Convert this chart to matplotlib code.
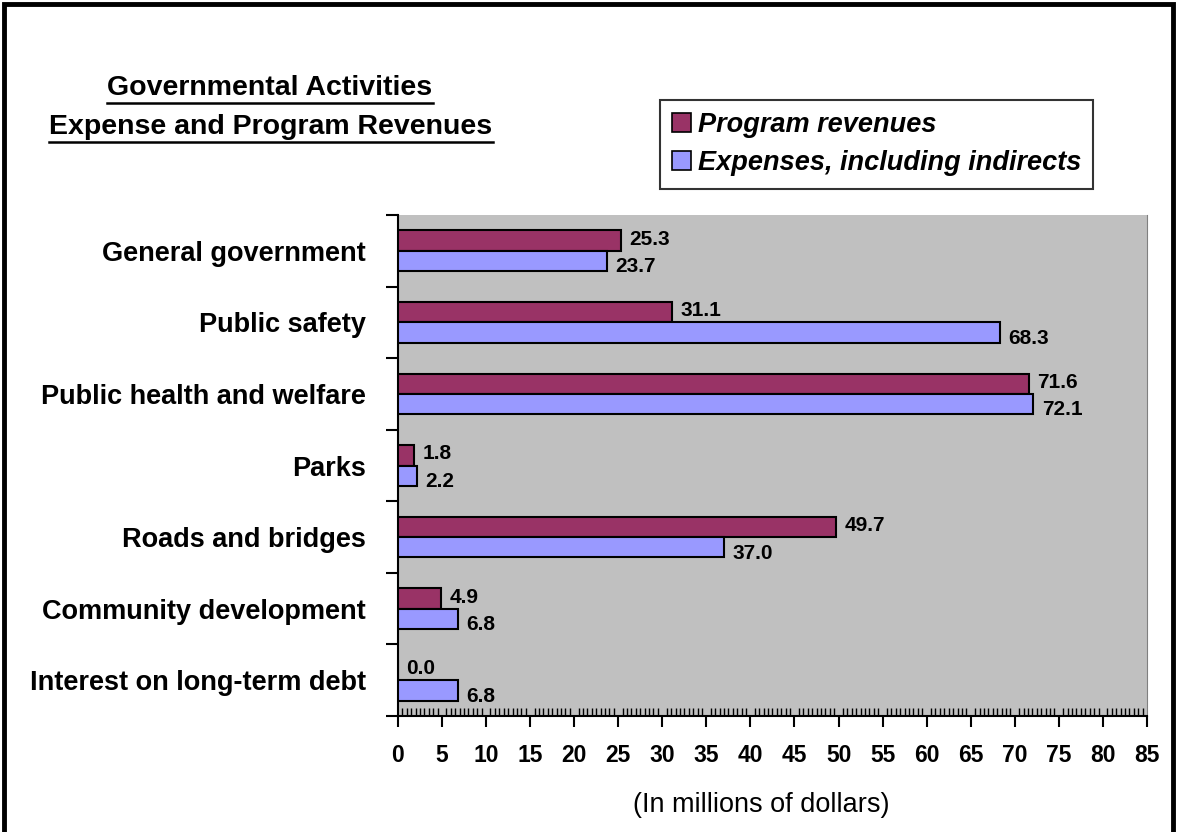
import matplotlib.pyplot as plt
import numpy as np
from matplotlib.lines import Line2D
from matplotlib.patches import Rectangle, Patch
from matplotlib.ticker import MultipleLocator

plt.rcParams["font.family"] = ["Liberation Sans", "DejaVu Sans"]

categories = [
    "General government",
    "Public safety",
    "Public health and welfare",
    "Parks",
    "Roads and bridges",
    "Community development",
    "Interest on long-term debt",
]
program_revenues = [25.3, 31.1, 71.6, 1.8, 49.7, 4.9, 0.0]
expenses = [23.7, 68.3, 72.1, 2.2, 37.0, 6.8, 6.8]

PROG_COLOR = "#993366"
EXP_COLOR = "#9999FF"

fig = plt.figure(figsize=(11.77, 8.32), dpi=100)
ax = fig.add_axes([0.3381, 0.1394, 0.6364, 0.6022])
ax.set_facecolor("#C0C0C0")

n = len(categories)
y = np.arange(n)
h = 0.285

ax.barh(y - h / 2, program_revenues, height=h, color=PROG_COLOR,
        edgecolor="black", linewidth=1.5, zorder=3)
ax.barh(y + h / 2, expenses, height=h, color=EXP_COLOR,
        edgecolor="black", linewidth=1.5, zorder=3)

for yi, v in zip(y, program_revenues):
    ax.annotate(f"{v:.1f}", (v, yi - h / 2 - 0.02), xytext=(6, 0),
                textcoords="offset points", va="center", ha="left",
                fontsize=15, fontweight="bold")
for yi, v in zip(y, expenses):
    ax.annotate(f"{v:.1f}", (v, yi + h / 2 + 0.08), xytext=(6, 0),
                textcoords="offset points", va="center", ha="left",
                fontsize=15, fontweight="bold")

ax.set_xlim(0, 85)
ax.set_ylim(n - 0.5, -0.5)

ax.xaxis.set_major_locator(MultipleLocator(5))
ax.xaxis.set_minor_locator(MultipleLocator(0.5))
ax.tick_params(axis="x", which="major", direction="out", length=8, width=1.5,
               labelsize=16.5, pad=12)
ax.tick_params(axis="x", which="minor", direction="in", length=6, width=1)
for lbl in ax.get_xticklabels():
    lbl.set_fontweight("bold")

ax.set_yticks(np.arange(n + 1) - 0.5)
ax.set_yticklabels([])
ax.set_yticks(y, minor=True)
ax.set_yticklabels(categories, minor=True, fontsize=19.5, fontweight="bold")
ax.tick_params(axis="y", which="major", direction="out", length=9, width=1.5)
ax.tick_params(axis="y", which="minor", length=0, pad=23)

for side in ["left", "bottom"]:
    ax.spines[side].set_linewidth(1.5)
ax.spines["top"].set_visible(False)
ax.spines["right"].set_color("#808080")

fig.text(761 / 1177, 1 - 805 / 832, "(In millions of dollars)",
         ha="center", va="center", fontsize=19.5)

# title with underline
t1 = fig.text(270 / 1177, 1 - 88 / 832, "Governmental Activities",
              ha="center", va="center", fontsize=20.5, fontweight="bold")
t2 = fig.text(271 / 1177, 1 - 127 / 832, "Expense and Program Revenues",
              ha="center", va="center", fontsize=20.5, fontweight="bold")

handles = [
    Patch(facecolor=PROG_COLOR, edgecolor="black", linewidth=1.2),
    Patch(facecolor=EXP_COLOR, edgecolor="black", linewidth=1.2),
]
leg = fig.legend(handles, ["Program revenues", "Expenses, including indirects"],
                 loc="upper left", bbox_to_anchor=(660 / 1177, 1 - 100 / 832),
                 frameon=True, fancybox=False, edgecolor="black",
                 prop={"size": 19.5, "style": "italic", "weight": "bold"},
                 handlelength=0.7, handleheight=0.7, handletextpad=0.25,
                 labelspacing=0.45, borderpad=0.45, borderaxespad=0)
leg.get_frame().set_linewidth(1.5)

# outer border
fig.patches.append(Rectangle((4 / 1177, -0.05), 1 - 8 / 1177, 1.05 - 4 / 832,
                             transform=fig.transFigure, fill=False,
                             edgecolor="black", linewidth=3.5))

fig.canvas.draw()
inv = fig.transFigure.inverted()
for t in (t1, t2):
    bb = t.get_window_extent().transformed(inv)
    fig.lines.append(Line2D([bb.x0, bb.x1], [bb.y0 - 0.002, bb.y0 - 0.002],
                            transform=fig.transFigure, color="black", linewidth=1.8))

fig.savefig("out.png", dpi=100)
